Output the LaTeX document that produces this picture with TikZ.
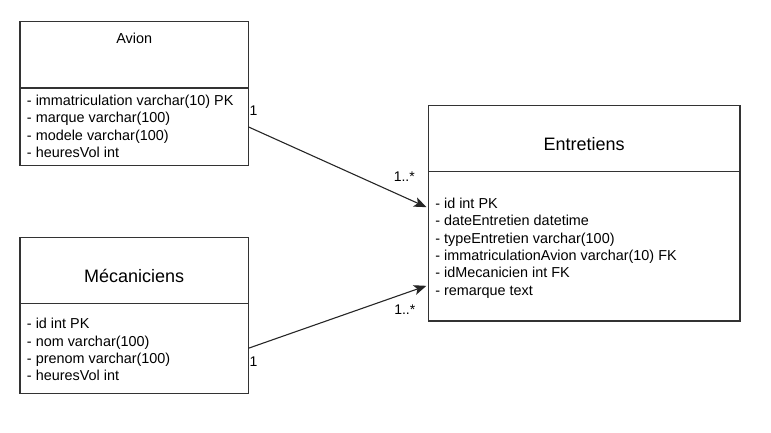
\documentclass[tikz,border=0pt]{standalone}
\usepackage{fontspec}
\setmainfont{Liberation Sans}
\usetikzlibrary{positioning,calc,arrows.meta}

\begin{document}
\begin{tikzpicture}[x=1pt,y=-1pt,
  font=\fontsize{14.4}{17.3}\selectfont,
  table/.style={draw=black!80, line width=1.1pt, minimum width=228.3pt,
    inner sep=0pt, outer sep=0pt, anchor=north west},
  title/.style={anchor=base, inner sep=0pt, font=\fontsize{18}{21}\selectfont},
  fields/.style={anchor=north west, align=left, inner sep=0pt},
  mult/.style={anchor=base, inner sep=0pt, font=\fontsize{14}{16}\selectfont},
  link/.style={draw=black!85, line width=1.1pt, shorten >=2pt,
    -{Stealth[length=12.5pt,width=10pt,inset=3pt]}}]
    \useasboundingbox (0,0) rectangle (771,432);
    % tables
    \node[table, minimum height=66.3pt] (avion_head) at (20,21.7) {};
    \node[table, minimum height=77.7pt] (avion_body) at (20,88) {};
    \node[table, minimum height=65.6pt] (meca_head) at (20,237.7) {};
    \node[table, minimum height=90pt] (meca_body) at (20,303.3) {};
    \node[table, minimum width=311.7pt, minimum height=66pt] (entr_head) at (428.3,105.7) {};
    \node[table, minimum width=311.7pt, minimum height=149.3pt] (entr_body) at (428.3,171.7) {};
    %
    \node[title, font=\fontsize{14.4}{17}\selectfont] (avion_title) at ($(avion_head.north)+(0,21.6)$) {Avion};
    \node[title] (meca_title) at ($(meca_head.center)+(0,11.5)$) {Mécaniciens};
    \node[title] (entr_title) at ($(entr_head.center)+(0,11.3)$) {Entretiens};
    %
    \node[fields] (avion_fields) at ($(avion_body.north west)+(6.8,6.8)$) {- immatriculation varchar(10) PK\\- marque varchar(100)\\- modele varchar(100)\\- heuresVol int};
    \node[fields] (meca_fields) at ($(meca_body.north west)+(6.8,15)$) {- id int PK\\- nom varchar(100)\\- prenom varchar(100)\\- heuresVol int};
    \node[fields] (entr_fields) at ($(entr_body.north west)+(6.8,26.2)$) {- id int PK\\- dateEntretien datetime\\- typeEntretien varchar(100)\\- immatriculationAvion varchar(10) FK\\- idMecanicien int FK\\- remarque text};
    %
    \coordinate (entr_in_a) at ($(entr_body.north west)!0.243!(entr_body.south west)$);
    \coordinate (entr_in_b) at ($(entr_body.north west)!0.76!(entr_body.south west)$);
    %
    \draw[link] (avion_body.east) -- (entr_in_a);
    \draw[link] (meca_body.east) -- (entr_in_b);
    %
    \node[mult] (avion_mult) at ($(avion_body.east)+(5.3,-11.8)$) {1};
    \node[mult] (meca_mult) at ($(meca_body.east)+(5.3,18.4)$) {1};
    \node[mult] (entr_mult_a) at ($(entr_in_a)+(-24,-26.3)$) {1..*};
    \node[mult] (entr_mult_b) at ($(entr_in_b)+(-23.5,29.8)$) {1..*};
\end{tikzpicture}
\end{document}
